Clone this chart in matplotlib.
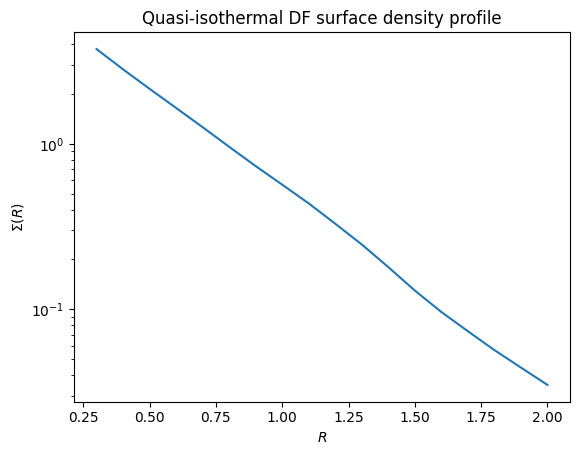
import numpy as np
import matplotlib
matplotlib.use("Agg")
import matplotlib.pyplot as plt

# Radius and surface density
R = [0.3, 0.4, 0.5, 0.6, 0.7, 0.8, 0.9, 1.0, 1.1, 1.2,
     1.3, 1.4, 1.5, 1.6, 1.7, 1.8, 1.9, 2.0]
sigma = [3.74, 2.82, 2.15, 1.647, 1.26, 0.959, 0.733, 0.566, 0.436, 0.3286,
         0.246, 0.1795, 0.1295, 0.0961, 0.0735, 0.0565, 0.0443, 0.0348]

fig = plt.figure(figsize=(5.8, 4.55), dpi=100)
ax = fig.add_axes([74 / 580, 53.3 / 455, 496 / 580, 369.4 / 455])

ax.plot(R, sigma)
ax.set_yscale("log")
ax.set_xlabel(r"$R$")
ax.set_ylabel(r"$\Sigma(R)$")
ax.set_title("Quasi-isothermal DF surface density profile")

fig.savefig("out.png", dpi=100, facecolor="white")
